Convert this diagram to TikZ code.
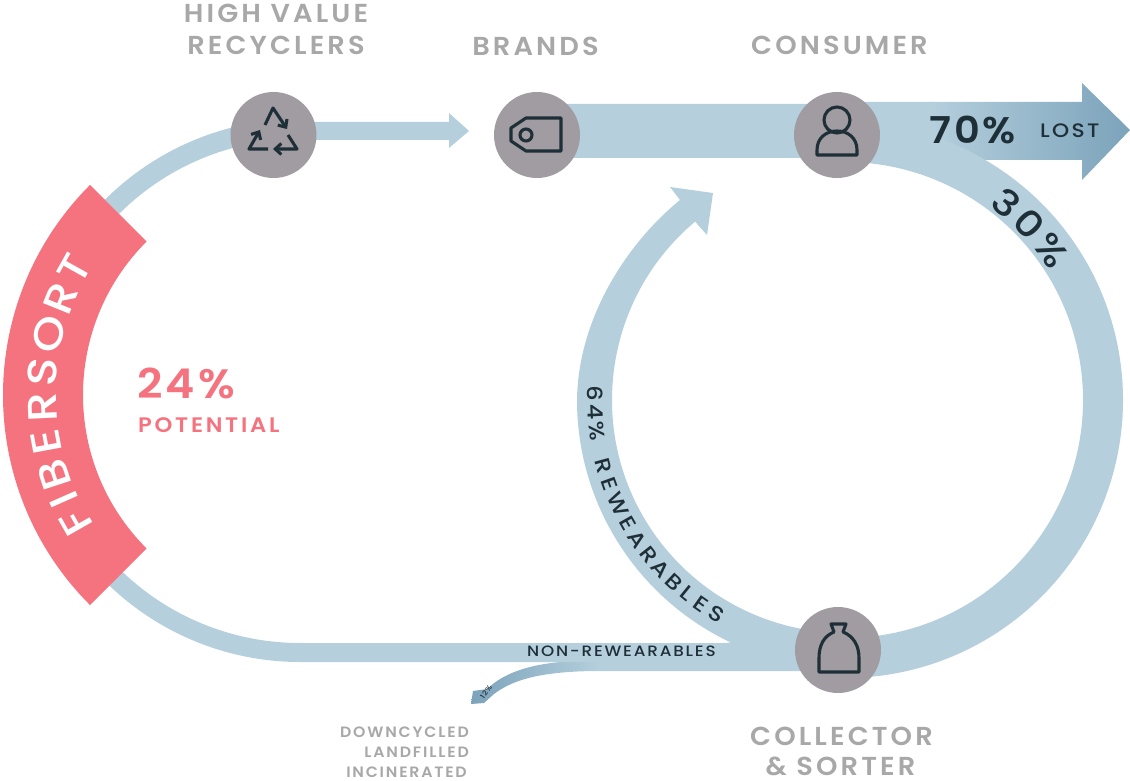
\documentclass[tikz,border=0pt]{standalone}
\usepackage{fontspec}
\usepackage{xcolor}
\usetikzlibrary{arrows.meta,calc}
\newfontfamily\popA[LetterSpace=12,FakeStretch=1.05]{Poppins SemiBold}
\newfontfamily\popB[LetterSpace=8,FakeStretch=1.08]{Poppins SemiBold}
\newfontfamily\popP[LetterSpace=13,FakeStretch=1.08]{Poppins SemiBold}
\newfontfamily\popW[FakeStretch=1.15]{Poppins Medium}
\newfontfamily\popS[LetterSpace=12,FakeStretch=1.12]{Poppins Medium}
\definecolor{bandblue}{HTML}{B5CFDD}
\definecolor{deepblue}{HTML}{7BA3BA}
\definecolor{disc}{HTML}{A09CA1}
\definecolor{coral}{HTML}{F4737F}
\definecolor{ink}{HTML}{1F2F38}
\definecolor{label}{HTML}{A8A8A8}
\tikzset{
  band/.style={fill=bandblue},
  hub/.style={circle,fill=disc,minimum size=86pt,inner sep=0pt},
  glyph/.style={draw=ink,line width=3.1pt,line join=round},
  head/.style={font=\popA\fontsize{26}{26}\selectfont,text=label,inner sep=0pt,anchor=center},
  small/.style={font=\popA\fontsize{15}{15}\selectfont,text=label,inner sep=0pt,anchor=east},
  letter/.style={inner sep=0pt,anchor=center},
}
\begin{document}
\begin{tikzpicture}[x=1pt,y=1pt]
\useasboundingbox (0,0) rectangle (1130,-781);
\coordinate (cr) at (845,-400);
\coordinate (cl) at (300,-395);
\coordinate (clb) at (300,-386);
% lost arrow
\shade[left color=bandblue,right color=deepblue]
  (930,-102) -- (1082,-102) -- (1082,-83) -- (1130,-130) -- (1082,-180) -- (1082,-160) -- (930,-160) -- cycle;
\fill[band] (535,-104) -- (840,-104) -- (866,-102) -- (935,-102) -- (935,-160) -- (840,-158) -- (535,-158) -- cycle;
% ring
\fill[band] ([shift={(100:278)}]cr) arc[start angle=100,end angle=-85,radius=278pt]
  -- ([shift={(-85:238)}]cr) arc[start angle=-85,end angle=97,radius=238pt] -- cycle;
% rewearables arrow
\fill[band] ([shift={(262:268)}]cr) arc[start angle=262,end angle=180,radius=268pt]
  .. controls (578,-320) and (625,-245) .. (680,-200)
  -- (670,-187) -- (713,-193) -- (707,-235) -- (698,-225)
  -- ([shift={(130:233)}]cr) arc[start angle=130,end angle=265,radius=233pt] -- cycle;
% top-left arc and arrow
\fill[band] ([shift={(135:276)}]cl) arc[start angle=135,end angle=100,radius=276pt]
  -- (280,-122) -- (449,-122) -- (449,-113) -- (469,-131) -- (449,-148) -- (449,-140) -- (280,-140)
  -- ([shift={(100:256)}]cl) arc[start angle=100,end angle=135,radius=256pt] -- cycle;
% small lost arrow
\shade[left color=deepblue,right color=bandblue]
  (600,-662) -- (560,-662) .. controls (530,-665) and (505,-672) .. (487,-689)
  -- (473,-691) -- (471,-704) -- (484,-703) -- (494,-694)
  .. controls (510,-682) and (535,-671) .. (600,-671) -- cycle;
% bottom-left arc and non-rewearables band
\fill[band] ([shift={(225:276)}]clb) arc[start angle=225,end angle=270,radius=276pt]
  -- (600,-662) -- (600,-671) -- (810,-671) -- (810,-630) -- (726,-643) -- (300,-643)
  arc[start angle=270,end angle=225,radius=257pt] -- cycle;
% fibersort
\fill[coral] ([shift={(135:297)}]cl) arc[start angle=135,end angle=225,radius=297pt]
  -- ([shift={(225:217)}]cl) arc[start angle=225,end angle=135,radius=217pt] -- cycle;
\foreach \ch/\ang [count=\i] in {F/209.6,I/203.9,B/198.1,E/190.5,R/182.7,S/174.9,O/166.4,R/158,T/150.8}
  \node[letter,text=white,rotate=\ang-90,font=\popW\fontsize{41}{41}\selectfont] (fib\i) at ([shift={(\ang:258)}]cl) {\ch};
\foreach \ch/\ang [count=\i] in {3/50.7,0/43.7,\%/35.9}
  \node[letter,text=ink,rotate=\ang-90,font=\popW\fontsize{36}{36}\selectfont] (th\i) at ([shift={(\ang:255)}]cr) {\ch};
\foreach \ch/\ang [count=\i] in {6/178.6,4/182.8,\%/187.1,R/195.4,E/199.7,W/204.8,E/209.6,A/213.9,R/218.3,A/222.6,B/227,L/230.8,E/234.8,S/239}
  \node[letter,text=ink,rotate=\ang-270,font=\popW\fontsize{21}{21}\selectfont] (rw\i) at ([shift={(\ang:250)}]cr) {\ch};
% hubs
\node[hub] (rec) at (273.5,-135) {};
\node[hub] (bra) at (537,-135) {};
\node[hub] (con) at (837,-135) {};
\node[hub] (col) at (838,-650) {};
% recycle glyph
\draw[glyph,-{Straight Barb[length=6pt,width=11pt]}] (265,-125) -- (273,-108) -- (287,-129);
\draw[glyph,-{Straight Barb[length=6pt,width=11pt]}] (288,-135) -- (297,-149) -- (273,-149);
\draw[glyph,-{Straight Barb[length=6pt,width=11pt]}] (268,-149) -- (249,-149) -- (260,-130);
% tag glyph
\draw[glyph] (561,-118) -- (526,-118) -- (511,-128) -- (511,-141) -- (526,-151) -- (561,-151) -- cycle;
\draw[glyph] (526,-135) circle[radius=6pt];
% person glyph
\draw[glyph] (837,-120) circle[radius=13pt];
\draw[glyph] (817,-155) -- (857,-155) -- (857,-150) .. controls (857,-138) and (848,-131) .. (837,-131)
  .. controls (826,-131) and (817,-138) .. (817,-150) -- cycle;
% bag glyph
\draw[glyph] (819,-672) -- (859,-672) -- (859,-658) .. controls (859,-645) and (853,-636) .. (843,-632)
  -- (846,-624) -- (831,-624) -- (834,-632) .. controls (824,-636) and (819,-645) .. (819,-658) -- cycle;
% labels
\node[head] (l1) at (276,-13) {HIGH VALUE};
\node[head] (l2) at (276,-45) {RECYCLERS};
\node[head] (l3) at (535.5,-46) {BRANDS};
\node[head] (l4) at (839.5,-45) {CONSUMER};
\node[head] (l5) at (841.5,-736) {COLLECTOR};
\node[head] (l6) at (840.5,-766) {\& SORTER};
\node[inner sep=0pt,anchor=west,text=coral,font=\popB\fontsize{41}{41}\selectfont] (p1) at (137,-383) {24\%};
\node[inner sep=0pt,anchor=west,text=coral,font=\popP\fontsize{21}{21}\selectfont] (p2) at (138,-425) {POTENTIAL};
\node[inner sep=0pt,anchor=west,text=ink,font=\popB\fontsize{37}{37}\selectfont] (n70) at (929,-130) {70\%};
\node[inner sep=0pt,anchor=west,text=ink,font=\popS\fontsize{19.5}{19.5}\selectfont] (lost) at (1040,-131) {LOST};
\node[inner sep=0pt,anchor=west,text=ink,font=\popS\fontsize{15}{15}\selectfont] (nr) at (527,-651) {NON-REWEARABLES};
\node[inner sep=0pt,rotate=55,text=ink,font=\popS\fontsize{7}{7}\selectfont] (n12) at (486,-692) {12\%};
\node[small] (d1) at (469,-732) {DOWNCYCLED};
\node[small] (d2) at (469,-752) {LANDFILLED};
\node[small] (d3) at (467,-772) {INCINERATED};
\end{tikzpicture}
\end{document}
